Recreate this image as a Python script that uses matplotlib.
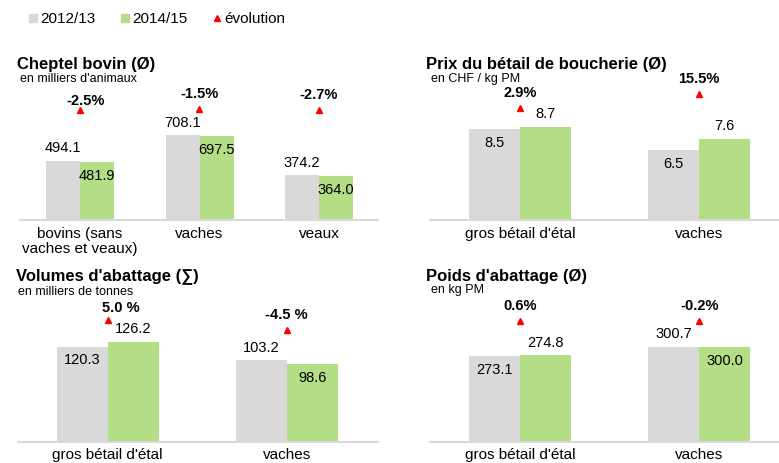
import numpy as np
import matplotlib
matplotlib.use('Agg')
import matplotlib.pyplot as plt
from matplotlib.lines import Line2D

plt.rcParams['font.family'] = ['Liberation Sans', 'DejaVu Sans']

GRAY = '#d9d9d9'
GREEN = '#b3de86'
RED = '#ff0000'
W, H = 779, 463

# --- data ---
series = ['2012/13', '2014/15', 'évolution']

cheptel_cats = ['bovins (sans\nvaches et veaux)', 'vaches', 'veaux']
cheptel_1213 = [494.1, 708.1, 374.2]
cheptel_1415 = [481.9, 697.5, 364.0]
cheptel_evol = [-2.5, -1.5, -2.7]
cheptel_evol_txt = ['-2.5%', '-1.5%', '-2.7%']

prix_cats = ["gros bétail d'étal", 'vaches']
prix_1213 = [8.5, 6.5]
prix_1415 = [8.7, 7.6]
prix_evol = [2.9, 15.5]
prix_evol_txt = ['2.9%', '15.5%']

volumes_cats = ["gros bétail d'étal", 'vaches']
volumes_1213 = [120.3, 103.2]
volumes_1415 = [126.2, 98.6]
volumes_evol = [5.0, -4.5]
volumes_evol_txt = ['5.0 %', '-4.5 %']

poids_cats = ["gros bétail d'étal", 'vaches']
poids_1213 = [273.1, 300.7]
poids_1415 = [274.8, 300.0]
poids_evol = [0.6, -0.2]
poids_evol_txt = ['0.6%', '-0.2%']

fig = plt.figure(figsize=(W / 100, H / 100), dpi=100)


def panel(box, c0, d, bw, s, zero_e, cats, v1, v2, ev, ev_txt,
          title, sub, tpos, spos, nudges=None, pad=5):
    L, R, T, B = box
    ax = fig.add_axes([L / W, 1 - B / H, (R - L) / W, (B - T) / H])
    x = np.arange(len(cats))
    w = bw / d
    ax.bar(x - w / 2, v1, w, color=GRAY)
    ax.bar(x + w / 2, v2, w, color=GREEN)
    ax.set_xlim((L - c0) / d, (R - c0) / d)
    ax.set_ylim(0, (B - T) / s)
    for sp in ['top', 'right', 'left']:
        ax.spines[sp].set_visible(False)
    ax.spines['bottom'].set_color(GRAY)
    ax.spines['bottom'].set_linewidth(1.5)
    ax.set_yticks([])
    ax.set_xticks(x, cats, fontsize=11, linespacing=1.1)
    ax.tick_params(axis='x', length=0, pad=pad)
    ax.patch.set_alpha(0)

    # value labels: higher bar above, lower bar inside
    for i in x:
        up1 = v1[i] >= v2[i]
        for xx, v, up in [(i - w / 2, v1[i], up1), (i + w / 2, v2[i], not up1)]:
            ax.annotate(f'{v:.1f}', (xx, v), xytext=(0, 9 if up else -10),
                        textcoords='offset points', ha='center', va='center',
                        fontsize=10.5, color='black')

    # évolution on secondary axis
    ax2 = ax.twinx()
    ax2.set_ylim((zero_e - B) / 1.1, (zero_e - T) / 1.1)
    ax2.plot(x, ev, ls='', marker='^', color=RED, ms=5)
    ax2.axis('off')
    for i in x:
        dx, dy = (0, 10.8)
        if nudges and i in nudges:
            dx, dy = nudges[i]
        ax2.annotate(ev_txt[i], (x[i], ev[i]), xytext=(dx, dy),
                     textcoords='offset points', ha='center', va='center',
                     fontsize=10.5, fontweight='bold')

    fig.text(tpos[0] / W, 1 - tpos[1] / H, title, fontsize=12,
             fontweight='bold', va='baseline')
    fig.text(spos[0] / W, 1 - spos[1] / H, sub, fontsize=9, va='baseline')
    return ax


panel((20, 378, 90, 220), 80, 119.5, 34, 0.12, 107,
      cheptel_cats, cheptel_1213, cheptel_1415, cheptel_evol, cheptel_evol_txt,
      'Cheptel bovin (Ø)', "en milliers d'animaux", (17, 69.5), (20.5, 82.5),
      nudges={0: (4.3, 6.3)})

panel((430, 779, 90, 220), 520, 179, 51, 10.7, 111.5,
      prix_cats, prix_1213, prix_1415, prix_evol, prix_evol_txt,
      'Prix du bétail de boucherie (Ø)', 'en CHF / kg PM', (426.5, 69), (430.5, 82))

panel((18, 378, 310, 442.3), 107.7, 179, 51, 0.796, 325.5,
      volumes_cats, volumes_1213, volumes_1415, volumes_evol, volumes_evol_txt,
      "Volumes d'abattage (∑)", 'en milliers de tonnes', (15.5, 280), (18.5, 295),
      nudges={0: (9.4, 9.0)}, pad=4.3)

panel((430, 779, 310, 441.7), 520, 179.3, 51, 0.315, 321.2,
      poids_cats, poids_1213, poids_1415, poids_evol, poids_evol_txt,
      "Poids d'abattage (Ø)", 'en kg PM', (426.5, 280.5), (430.5, 293.5),
      pad=4.3)

handles = [Line2D([], [], ls='', marker='s', color=GRAY, ms=6),
           Line2D([], [], ls='', marker='s', color=GREEN, ms=6),
           Line2D([], [], ls='', marker='^', color=RED, ms=5)]
fig.legend(handles, series, loc='center left', bbox_to_anchor=(28.7 / W, 1 - 19 / H),
           ncol=3, frameon=False, fontsize=11, handlelength=0.6,
           handletextpad=0.15, columnspacing=1.65, borderpad=0, borderaxespad=0)

fig.savefig('out.png', dpi=100)
